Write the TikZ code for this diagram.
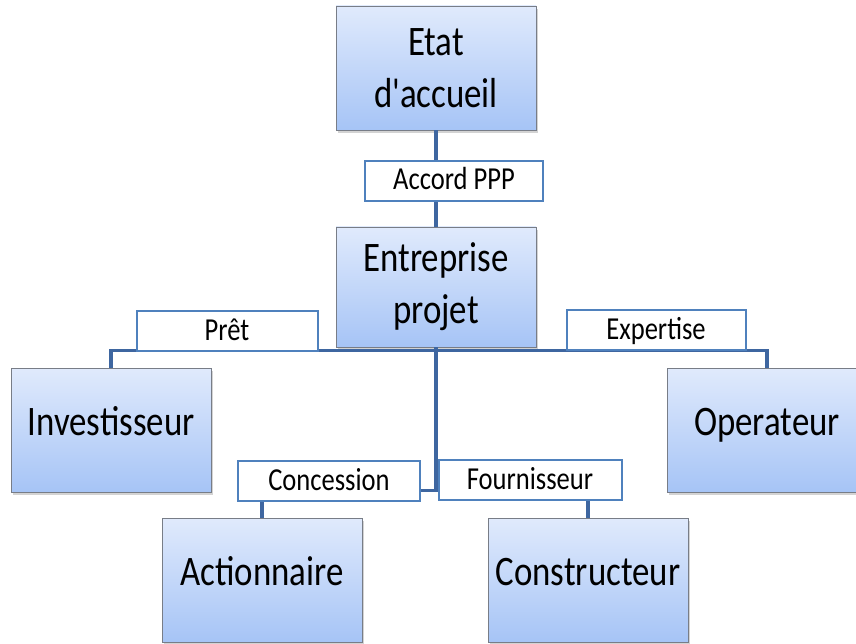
\documentclass[tikz,border=0pt]{standalone}
\usepackage{fontspec}
\setmainfont{Carlito}
\usepackage{graphicx}
\usetikzlibrary{shadows}
\definecolor{partytop}{RGB}{224,234,252}
\definecolor{partybottom}{RGB}{166,196,246}
\definecolor{partyline}{RGB}{120,125,135}
\definecolor{linkblue}{RGB}{62,102,160}
\definecolor{labelblue}{RGB}{79,129,189}
\newcommand{\narrowtext}[1]{\scalebox{0.83}[1]{#1}}
\tikzset{
	every party/.style={
		rectangle,
		draw=partyline,
		line width=0.8pt,
		top color=partytop,
		bottom color=partybottom,
		minimum width=200pt,
		minimum height=124pt,
		inner sep=0pt,
		drop shadow={shadow xshift=2pt, shadow yshift=-3pt, opacity=0.35},
		font=\fontsize{42}{52}\selectfont,
		text=black,
		align=center
	},
	relation/.style={
		rectangle,
		draw=labelblue,
		line width=2pt,
		fill=white,
		minimum height=40pt,
		inner sep=0pt,
		font=\fontsize{32}{38}\selectfont,
		text=black,
		text height=22pt,
		text depth=4pt
	},
	link/.style={
		draw=linkblue,
		line width=3.5pt
	},
}
\begin{document}
\begin{tikzpicture}[x=1pt, y=-1pt]
\useasboundingbox (0,0) rectangle (856,644);

\node [every party] (etat) at (436,68) {\narrowtext{Etat}\\\narrowtext{d\textquotesingle accueil}};
\node [every party, minimum height=120pt] (entreprise) at (436,287) {\narrowtext{Entreprise}\\\narrowtext{projet}};

\foreach \n/\t/\x/\y in {investisseur/Investisseur/111/430, operateur/Operateur/767/430, actionnaire/Actionnaire/262/580, constructeur/Constructeur/588/580}
	\node [every party, text height=30pt, text depth=19pt] (\n) at (\x,\y) {\narrowtext{\t}};

\draw [link] (etat) -- (entreprise);
\coordinate (hub high) at ([yshift=-3pt]entreprise.south);
\draw [link] (investisseur.north) |- (hub high) -| (operateur.north);
\draw [link] (entreprise.south) -- ++(0,143) coordinate (hub low);
\draw [link] (actionnaire.north) |- (hub low) -| (constructeur.north);

\foreach \n/\t/\x/\y/\w in {accord/Accord PPP/454/181/178, pret/Prêt/227/331/181, expertise/Expertise/656/330/179, concession/Concession/329/481/182, fournisseur/Fournisseur/530/480/183}
	\node [relation, minimum width=\w pt] (\n) at (\x,\y) {\narrowtext{\t}};

\end{tikzpicture}
\end{document}
